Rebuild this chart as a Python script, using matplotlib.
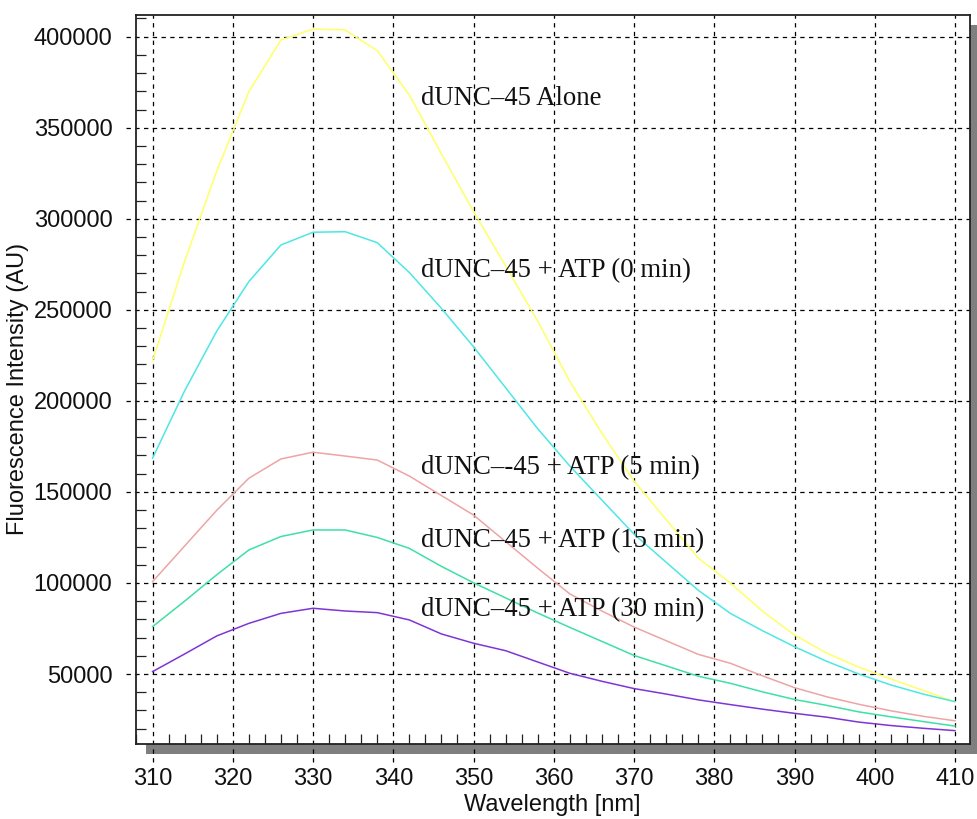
import matplotlib
matplotlib.use("Agg")
import matplotlib.pyplot as plt
import matplotlib.transforms as mtransforms
from matplotlib.patches import Rectangle
from matplotlib.ticker import MultipleLocator

# wavelength samples (nm)
wavelength = [310, 314, 318, 322, 326, 330, 334, 338, 342, 346, 350, 354, 358,
              362, 366, 370, 374, 378, 382, 386, 390, 394, 398, 402, 406, 410]

alone = [222000, 276700, 326200, 369800, 398200, 404200, 403700, 392300, 368000,
         335700, 304000, 274100, 243800, 210700, 182200, 156000, 134800, 113700,
         100000, 84500, 71400, 61500, 53800, 47300, 41000, 34800]
atp_0 = [168500, 205500, 238300, 265500, 285600, 292600, 292900, 286900, 270500,
         250800, 229700, 207200, 184700, 164200, 145500, 126800, 111400, 96000,
         83300, 73800, 65000, 57000, 50000, 44000, 39000, 34800]
atp_5 = [100700, 120300, 139900, 157500, 168100, 171800, 169700, 167500, 158700,
         148000, 137300, 122700, 108100, 94000, 84600, 75800, 68300, 60800,
         55900, 49000, 42500, 37500, 33400, 29800, 26800, 24300]
atp_15 = [76000, 90000, 104500, 118100, 125500, 129100, 129100, 125000, 119000,
          109100, 100100, 91800, 83500, 75600, 67900, 60200, 54500, 48800,
          44900, 40200, 36000, 32800, 29200, 26500, 23900, 21400]
atp_30 = [51300, 61000, 70900, 77800, 83300, 86100, 84600, 83700, 79700,
          72000, 66900, 62800, 56600, 50400, 46000, 42000, 39000, 35800,
          33200, 30700, 28400, 26300, 23600, 21700, 20200, 18900]

series = [
    (alone, "#ffff66", "dUNC\u201345 Alone", 365800),
    (atp_0, "#4ee6e6", "dUNC\u201345 + ATP (0 min)", 271300),
    (atp_5, "#eea4a4", "dUNC\u2013-45 + ATP (5 min)", 163100),
    (atp_15, "#3ee0a4", "dUNC\u201345 + ATP (15 min)", 123000),
    (atp_30, "#7f35d6", "dUNC\u201345 + ATP (30 min)", 85100),
]
label_x = 343.4

sans = "Liberation Sans"
serif = "Liberation Serif"

fig = plt.figure(figsize=(9.77, 8.19), dpi=100)
ax = fig.add_axes([136 / 977, 75 / 819, 834 / 977, 729 / 819])
ax.set_xlim(307.94, 411.87)
ax.set_ylim(11560, 411900)

# drop shadow behind the plot area
shadow_tr = ax.transAxes + mtransforms.ScaledTranslation(10 / 100, -10 / 100, fig.dpi_scale_trans)
fig.add_artist(Rectangle((0, 0), 1, 1, transform=shadow_tr, facecolor="#7f7f7f",
                         edgecolor="none", zorder=-1))

for values, color, text, ty in series:
    ax.plot(wavelength, values, color=color, lw=1.1, zorder=3)
    ax.text(label_x, ty, text, family=serif, fontsize=19.3, va="center", ha="left",
            color="#111111", zorder=4)

ax.xaxis.set_major_locator(MultipleLocator(10))
ax.xaxis.set_minor_locator(MultipleLocator(2))
ax.yaxis.set_major_locator(MultipleLocator(50000))
ax.yaxis.set_minor_locator(MultipleLocator(10000))

# dashed grid lines, running a little outside the frame like the original
grid_style = dict(color="black", lw=0.9, ls=(0, (3.5, 3.5)), clip_on=False, zorder=2)
xtr = ax.get_xaxis_transform()
ytr = ax.get_yaxis_transform()
for xv in ax.get_xticks():
    if 307.94 <= xv <= 411.87:
        ax.plot([xv, xv], [-0.025, 1.0], transform=xtr, **grid_style)
for yv in ax.get_yticks():
    if 11560 <= yv <= 411900:
        ax.plot([-0.012, 1.0], [yv, yv], transform=ytr, **grid_style)

ax.tick_params(which="major", length=0, pad=17, labelsize=17)
ax.tick_params(which="minor", direction="in", length=7, width=0.9, color="#222222")
for lab in ax.get_xticklabels() + ax.get_yticklabels():
    lab.set_family(sans)
    lab.set_color("#111111")

for sp in ax.spines.values():
    sp.set_linewidth(1.3)
    sp.set_color("#222222")

ax.set_xlabel("Wavelength [nm]", family=sans, fontsize=17, color="#111111")
ax.set_ylabel("Fluorescence Intensity (AU)", family=sans, fontsize=17, color="#111111")
ax.xaxis.set_label_coords(0.499, -0.068)
ax.yaxis.set_label_coords(-0.128, 0.487)

fig.savefig("out.png", dpi=100)
